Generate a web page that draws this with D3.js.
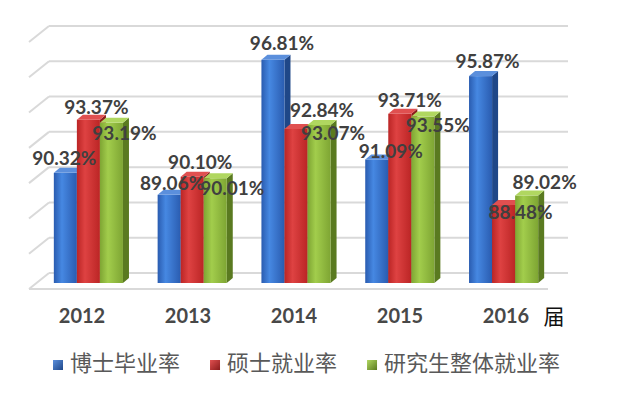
<!DOCTYPE html>
<html>
<head>
<meta charset="utf-8">
<script src="https://cdn.jsdelivr.net/npm/d3@7"></script>
<style>
  body { margin: 0; background: #fff; }
</style>
</head>
<body>
<svg id="chart" width="630" height="403"></svg>
<script>
// Data
const years = ["2012", "2013", "2014", "2015", "2016"];
const seriesNames = ["博士毕业率", "硕士就业率", "研究生整体就业率"];
const phdRate = [90.32, 89.06, 96.81, 91.09, 95.87];
const masterRate = [93.37, 90.10, 92.84, 93.71, 88.48];
const overallRate = [93.19, 90.01, 93.07, 93.55, 89.02];
const yTicks = [84, 86, 88, 90, 92, 94, 96, 98];
const unitLabel = "届";

// label nudges [dx, dy] from the top centre of each bar (the original labels were hand placed)
const labelNudge = [
  [[-1, -8], [3, -5], [9, -10], [14, -1], [7, -8]],
  [[8, -6], [8, -8], [26, -12], [10, -7], [17, 14]],
  [[13, 17], [17, 17], [14, 15], [15, 15], [18, -7]]
];

const series = [phdRate, masterRate, overallRate];

// colours: [front dark, front light, side, top]
const palette = [
  ["#2a5cb0", "#4688e2", "#1f4788", "#5b8fdc"],
  ["#bb2525", "#de4242", "#8a1b1b", "#e05050"],
  ["#7ea533", "#a2cd4c", "#5a7a20", "#b0d760"]
];

const svg = d3.select("#chart");
const defs = svg.append("defs");

palette.forEach((c, i) => {
  const g = defs.append("linearGradient")
    .attr("id", "front" + i)
    .attr("x1", "0%").attr("x2", "100%").attr("y1", "0%").attr("y2", "0%");
  g.append("stop").attr("offset", "0%").attr("stop-color", c[0]);
  g.append("stop").attr("offset", "35%").attr("stop-color", c[1]);
  g.append("stop").attr("offset", "100%").attr("stop-color", c[0]);
  const lg = defs.append("linearGradient")
    .attr("id", "legend" + i)
    .attr("x1", "0%").attr("x2", "100%").attr("y1", "0%").attr("y2", "100%");
  lg.append("stop").attr("offset", "0%").attr("stop-color", c[3]);
  lg.append("stop").attr("offset", "100%").attr("stop-color", c[2]);
});

// Geometry of the 3D box
const wallLeft = 49, wallRight = 568;
const depth = { x: -20, y: 16 };        // back wall -> front edge of floor
const barShift = { x: -12.5, y: 10 };   // back wall -> front face of bars
const barDepth = { x: 6, y: -5 };

const yBack = d3.scaleLinear().domain([84, 98]).range([273, 26]);
const yFront = d3.scaleLinear().domain([84, 98]).range([283, 39]);

const xBand = d3.scaleBand().domain(years).range([wallLeft, wallRight]);
const labelBand = d3.scaleBand().domain(years).range([29, 559]);
const barW = xBand.bandwidth() * 0.222;

// gridlines on the back wall + left diagonals
const grid = svg.append("g").attr("stroke", "#d9d9d9").attr("stroke-width", 2).attr("fill", "none");
yTicks.forEach(t => {
  grid.append("line")
    .attr("x1", wallLeft).attr("x2", wallRight)
    .attr("y1", yBack(t)).attr("y2", yBack(t));
  grid.append("line")
    .attr("x1", wallLeft).attr("y1", yBack(t))
    .attr("x2", wallLeft + depth.x).attr("y2", yBack(t) + depth.y);
});
// floor front edge
grid.append("line")
  .attr("x1", wallLeft + depth.x).attr("x2", wallRight + depth.x)
  .attr("y1", yBack(84) + depth.y).attr("y2", yBack(84) + depth.y);

// bars
const bars = svg.append("g");
years.forEach((yr, j) => {
  const start = xBand(yr) + (xBand.bandwidth() - 3 * barW) / 2 + barShift.x;
  series.forEach((vals, i) => {
    const x0 = start + i * barW, x1 = x0 + barW;
    const yt = yFront(vals[j]), yb = yFront(84);
    const c = palette[i];
    bars.append("polygon")
      .attr("points", [[x1, yt], [x1 + barDepth.x, yt + barDepth.y], [x1 + barDepth.x, yb + barDepth.y], [x1, yb]].join(" "))
      .attr("fill", c[2]);
    bars.append("rect")
      .attr("x", x0).attr("y", yt)
      .attr("width", barW).attr("height", yb - yt)
      .attr("fill", `url(#front${i})`);
    bars.append("polygon")
      .attr("points", [[x0, yt], [x0 + barDepth.x, yt + barDepth.y], [x1 + barDepth.x, yt + barDepth.y], [x1, yt]].join(" "))
      .attr("fill", c[3]);
  });
});

// value labels
const labels = svg.append("g")
  .attr("font-family", "Lato, 'Liberation Sans', sans-serif")
  .attr("font-weight", "bold")
  .attr("font-size", 19)
  .attr("fill", "#404040")
  .attr("text-anchor", "middle");
years.forEach((yr, j) => {
  const start = xBand(yr) + (xBand.bandwidth() - 3 * barW) / 2 + barShift.x;
  series.forEach((vals, i) => {
    const cx = start + i * barW + barW / 2;
    const n = labelNudge[i][j];
    labels.append("text")
      .attr("x", cx + n[0])
      .attr("y", yFront(vals[j]) + n[1])
      .text(vals[j].toFixed(2) + "%");
  });
});

// category labels
svg.append("g")
  .attr("font-family", "Lato, 'Liberation Sans', sans-serif")
  .attr("font-weight", "bold")
  .attr("font-size", 20)
  .attr("fill", "#484848")
  .attr("text-anchor", "middle")
  .selectAll("text")
  .data(years)
  .join("text")
  .attr("x", d => labelBand(d) + labelBand.bandwidth() / 2)
  .attr("y", 323)
  .text(d => d);

svg.append("text")
  .attr("x", 554).attr("y", 324)
  .attr("text-anchor", "middle")
  .attr("font-family", "'Noto Sans CJK SC', sans-serif")
  .attr("font-size", 21)
  .attr("fill", "#111")
  .text(unitLabel);

// legend
const legend = svg.append("g");
let lx = 53;
seriesNames.forEach((name, i) => {
  legend.append("rect")
    .attr("x", lx).attr("y", 360)
    .attr("width", 10).attr("height", 10)
    .attr("fill", `url(#legend${i})`);
  const t = legend.append("text")
    .attr("x", lx + 17).attr("y", 371)
    .attr("font-family", "'Noto Sans CJK SC', sans-serif")
    .attr("font-size", 22)
    .attr("fill", "#595959")
    .text(name);
  lx += 17 + t.node().getComputedTextLength() + 30;
});
</script>
</body>
</html>
